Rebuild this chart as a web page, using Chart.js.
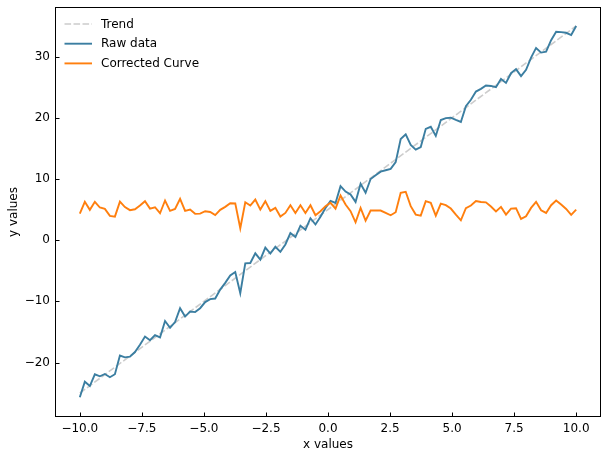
<!DOCTYPE html>
<html>
<head>
<meta charset="utf-8">
<script src="https://cdn.jsdelivr.net/npm/chart.js@4.4.1/dist/chart.umd.min.js"></script>
<style>
  html, body { margin: 0; padding: 0; background: #fff; }
  #wrap { width: 608px; height: 458px; }
</style>
</head>
<body>
<div id="wrap"><canvas id="chart" width="608" height="458"></canvas></div>
<script>
// x positions of the samples
const xValues = [
  -10, -9.798, -9.596, -9.394, -9.192, -8.990, -8.788, -8.586, -8.384, -8.182,
  -7.980, -7.778, -7.576, -7.374, -7.172, -6.970, -6.768, -6.566, -6.364, -6.162,
  -5.960, -5.758, -5.556, -5.354, -5.152, -4.949, -4.747, -4.545, -4.343, -4.141,
  -3.939, -3.737, -3.535, -3.333, -3.131, -2.929, -2.727, -2.525, -2.323, -2.121,
  -1.919, -1.717, -1.515, -1.313, -1.111, -0.909, -0.707, -0.505, -0.303, -0.101,
  0.101, 0.303, 0.505, 0.707, 0.909, 1.111, 1.313, 1.515, 1.717, 1.919,
  2.121, 2.323, 2.525, 2.727, 2.929, 3.131, 3.333, 3.535, 3.737, 3.939,
  4.141, 4.343, 4.545, 4.747, 4.949, 5.152, 5.354, 5.556, 5.758, 5.960,
  6.162, 6.364, 6.566, 6.768, 6.970, 7.172, 7.374, 7.576, 7.778, 7.980,
  8.182, 8.384, 8.586, 8.788, 8.990, 9.192, 9.394, 9.596, 9.798, 10
];

// raw measurements
const rawData = [
  -25.66, -23.13, -23.84, -21.92, -22.25, -21.87, -22.40, -21.91, -18.85, -19.15,
  -19.04, -18.28, -17.08, -15.75, -16.36, -15.53, -15.90, -13.22, -14.31, -13.39,
  -11.13, -12.49, -11.67, -11.76, -11.12, -10.12, -9.64, -9.54, -8.08, -6.98,
  -5.78, -5.21, -8.67, -3.80, -3.73, -2.15, -3.18, -1.21, -2.19, -1.09,
  -1.91, -0.70, 1.15, 0.51, 2.37, 1.72, 3.58, 2.56, 3.82, 5.25,
  6.40, 6.07, 8.82, 7.94, 7.46, 6.25, 9.21, 7.75, 9.99, 10.60,
  11.20, 11.42, 11.65, 12.74, 16.52, 17.29, 15.55, 14.79, 15.21, 18.19,
  18.52, 17.03, 19.62, 19.95, 20.01, 19.64, 19.31, 21.89, 22.93, 24.28,
  24.72, 25.27, 25.20, 25.00, 26.35, 25.70, 27.28, 27.95, 26.80, 27.84,
  29.82, 31.41, 30.65, 30.81, 32.68, 34.06, 34.00, 33.89, 33.52, 35.00
];

// detrended curve
const correctedData = [
  4.34, 6.26, 4.95, 6.26, 5.33, 5.10, 3.96, 3.85, 6.30, 5.40,
  4.90, 5.05, 5.65, 6.37, 5.16, 5.38, 4.40, 6.48, 4.78, 5.10,
  6.75, 4.78, 5.00, 4.30, 4.34, 4.73, 4.60, 4.10, 4.95, 5.44,
  6.04, 6.00, 1.94, 6.20, 5.66, 6.64, 5.00, 6.37, 4.78, 5.27,
  3.85, 4.45, 5.70, 4.45, 5.70, 4.45, 5.70, 4.07, 4.73, 5.55,
  6.10, 5.16, 7.30, 5.82, 4.73, 2.92, 5.27, 3.20, 4.84, 4.84,
  4.84, 4.45, 4.07, 4.56, 7.73, 7.90, 5.55, 4.18, 4.00, 6.37,
  6.10, 4.00, 5.98, 5.71, 5.16, 4.18, 3.25, 5.22, 5.66, 6.40,
  6.23, 6.18, 5.50, 4.70, 5.44, 4.18, 5.16, 5.22, 3.47, 3.90,
  5.27, 6.26, 4.89, 4.45, 5.71, 6.48, 5.82, 5.10, 4.13, 5.00
];

// trend line end points
const trendX = [-10, 10];
const trendY = [-25, 35];

const xTicks = [-10, -7.5, -5, -2.5, 0, 2.5, 5, 7.5, 10];
const yTicks = [-20, -10, 0, 10, 20, 30];

const FONT = "'DejaVu Sans', sans-serif";
const toPoints = (xs, ys) => xs.map((x, i) => ({ x: x, y: ys[i] }));
const minus = s => String(s).replace("-", "\u2212");

// frame, inward ticks and legend in the style of the original
const framePlugin = {
    id: "frame",
    afterDatasetsDraw(chart) {
        const ctx = chart.ctx;
        const a = chart.chartArea;
        const xs = chart.scales.x;
        const ys = chart.scales.y;
        ctx.save();
        ctx.strokeStyle = "#000";
        ctx.lineWidth = 1;
        ctx.strokeRect(a.left + 0.5, a.top + 0.5, a.right - a.left - 1, a.bottom - a.top - 1);

        ctx.beginPath();
        xTicks.forEach(v => {
            const px = Math.round(xs.getPixelForValue(v)) + 0.5;
            ctx.moveTo(px, a.bottom);
            ctx.lineTo(px, a.bottom - 4.5);
        });
        yTicks.forEach(v => {
            const py = Math.round(ys.getPixelForValue(v)) + 0.5;
            ctx.moveTo(a.left, py);
            ctx.lineTo(a.left + 4.5, py);
        });
        ctx.stroke();

        // legend (top left, no box)
        ctx.font = "12px " + FONT;
        ctx.textBaseline = "middle";
        ctx.fillStyle = "#000";
        chart.data.datasets.forEach((ds, i) => {
            const y = a.top + 17 + i * 19.7;
            ctx.beginPath();
            ctx.strokeStyle = ds.borderColor;
            ctx.lineWidth = ds.borderWidth;
            ctx.setLineDash(ds.borderDash || []);
            ctx.moveTo(a.left + 9.5, y);
            ctx.lineTo(a.left + 37, y);
            ctx.stroke();
            ctx.setLineDash([]);
            ctx.fillText(ds.label, a.left + 46, y + 0.5);
        });
        ctx.restore();
    }
};

new Chart(document.getElementById("chart"), {
    type: "line",
    data: {
        datasets: [
            {
                label: "Trend",
                data: toPoints(trendX, trendY),
                borderColor: "#cccccc",
                borderWidth: 1.6,
                borderDash: [6.6, 2.4],
                pointRadius: 0,
                order: 3
            },
            {
                label: "Raw data",
                data: toPoints(xValues, rawData),
                borderColor: "#3b7ea1",
                borderWidth: 1.9,
                pointRadius: 0,
                order: 2
            },
            {
                label: "Corrected Curve",
                data: toPoints(xValues, correctedData),
                borderColor: "#ff7f0e",
                borderWidth: 1.9,
                pointRadius: 0,
                order: 1
            }
        ]
    },
    options: {
        responsive: false,
        animation: false,
        devicePixelRatio: 1,
        layout: { padding: { top: 7, right: 7, left: 0, bottom: 0 } },
        plugins: {
            legend: { display: false },
            tooltip: { enabled: false }
        },
        scales: {
            x: {
                type: "linear",
                min: -11,
                max: 11,
                grid: { display: false, drawTicks: false },
                border: { display: false },
                afterBuildTicks: scale => { scale.ticks = xTicks.map(v => ({ value: v })); },
                afterFit: scale => {
                    scale.height = 41;
                    scale.paddingLeft = 0;
                    scale.paddingRight = 0;
                },
                ticks: {
                    color: "#000",
                    padding: 5,
                    maxRotation: 0,
                    autoSkip: false,
                    font: { family: FONT, size: 12 },
                    callback: v => minus(v.toFixed(1))
                },
                title: {
                    display: true,
                    text: "x values",
                    color: "#000",
                    padding: { top: 0, bottom: 6 },
                    font: { family: FONT, size: 12 }
                }
            },
            y: {
                type: "linear",
                min: -28.9,
                max: 38.1,
                grid: { display: false, drawTicks: false },
                border: { display: false },
                afterBuildTicks: scale => { scale.ticks = yTicks.map(v => ({ value: v })); },
                afterFit: scale => {
                    scale.width = 55;
                    scale.paddingTop = 0;
                    scale.paddingBottom = 0;
                },
                ticks: {
                    color: "#000",
                    padding: 5,
                    autoSkip: false,
                    font: { family: FONT, size: 12 },
                    callback: v => minus(v)
                },
                title: {
                    display: true,
                    text: "y values",
                    color: "#000",
                    padding: { top: 7, bottom: 0 },
                    font: { family: FONT, size: 12 }
                }
            }
        }
    },
    plugins: [framePlugin]
});
</script>
</body>
</html>
